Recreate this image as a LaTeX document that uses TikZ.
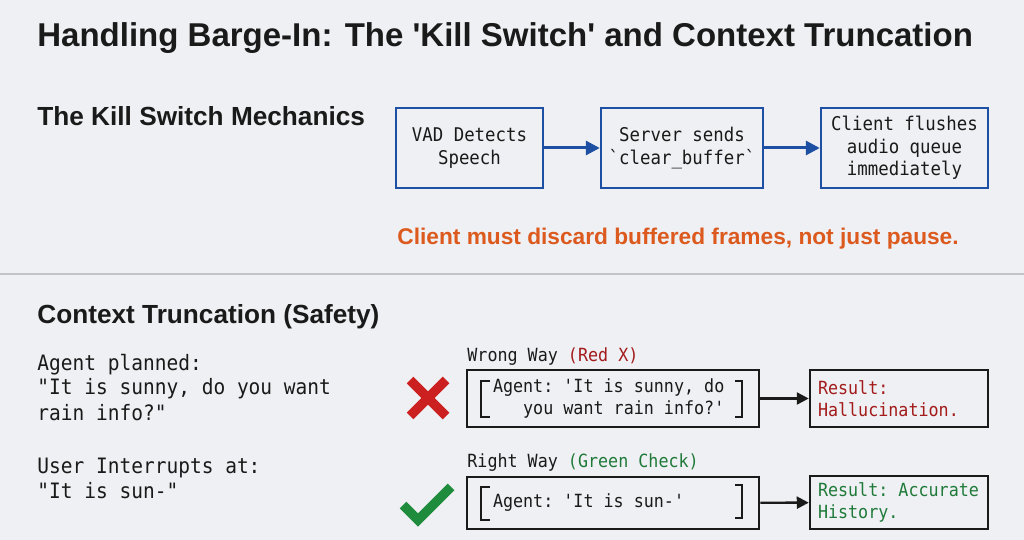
\documentclass[tikz,border=0pt]{standalone}
\usepackage{fontspec}
\setsansfont{Liberation Sans}
\setmonofont{DejaVu Sans Mono}[FakeStretch=0.92]
\usepackage{xcolor}
\usepackage{tikz}
\usetikzlibrary{
    arrows.meta
}
\definecolor{bgcol}{HTML}{EFF0F3}
\definecolor{inkcol}{HTML}{1A1A1A}
\definecolor{killblue}{HTML}{1D4FA3}
\definecolor{warnorange}{HTML}{DC5A1E}
\definecolor{wrongred}{HTML}{A31B1B}
\definecolor{xred}{HTML}{CC1F1F}
\definecolor{rightgreen}{HTML}{1F7A3A}
\definecolor{checkgreen}{HTML}{1E8C3C}
\definecolor{rulegray}{HTML}{C4C4C8}
\newcommand{\sq}{\XeTeXglyph\numexpr\XeTeXcharglyph"27\relax}
\tikzset{
    lbl/.style={anchor=base west, inner sep=0pt, text=inkcol},
    head/.style={lbl, font=\sffamily\bfseries\fontsize{13.1}{16}\selectfont},
    mono/.style={lbl, align=left, font=\ttfamily\fontsize{10.6}{12.5}\selectfont},
    waylbl/.style={lbl, font=\ttfamily\fontsize{9.08}{10}\selectfont},
    killbox/.style={draw=killblue, line width=1.2pt, minimum height=40pt, align=center,
        inner sep=2pt, text=inkcol, font=\ttfamily\fontsize{9.45}{11.2}\selectfont},
    killarrow/.style={draw=killblue, line width=1.5pt, -{Triangle[length=7pt,width=7pt]}},
    waybox/.style={draw=inkcol, line width=1.25pt, minimum width=146pt, text width=120pt,
        align=flush left, text=inkcol, font=\ttfamily\fontsize{9.08}{10.75}\selectfont},
    resbox/.style={waybox, minimum width=89pt, text width=81pt},
    wayarrow/.style={draw=inkcol, line width=1.2pt, -{Triangle[length=6pt,width=6pt]}},
    bracket/.style={draw=inkcol, line width=1pt}
}
\begin{document}
\begin{tikzpicture}[x=0.5pt,y=-0.5pt]
    \fill[bgcol] (0,0) rectangle (1024,540);
    \useasboundingbox (0,0) rectangle (1024,540);

    \draw (37,47) node[lbl,font=\sffamily\bfseries\fontsize{16.5}{20}\selectfont](ttl)
        {Handling Barge-In: The \sq Kill Switch\sq\ and Context Truncation};

    % kill switch
    \draw (37,126) node[head](kshead){The Kill Switch Mechanics};
    \draw (469.5,148) node[killbox,minimum width=73.5pt](vad){VAD Detects\\Speech};
    \draw (682,148) node[killbox,minimum width=81pt](srv){Server sends\\\symbol{96}clear\_buffer\symbol{96}};
    \draw (904.5,148) node[killbox,minimum width=83.5pt](cli){Client flushes\\audio queue\\immediately};
    \draw[killarrow] (vad) -- (srv);
    \draw[killarrow] (srv) -- (cli);
    \draw (397,245) node[lbl,text=warnorange,font=\sffamily\bfseries\fontsize{11.35}{14}\selectfont](warn)
        {Client must discard buffered frames, not just pause.};

    \draw[rulegray, line width=0.75pt] (0,274) -- (1024,274);

    % truncation
    \draw (37,323) node[head](cthead){Context Truncation (Safety)};
    \draw (37,420) node[mono](plan){Agent planned:\\"It is sunny, do you want\\rain info?"};
    \draw (37,498) node[mono](intr){User Interrupts at:\\"It is sun-"};

    \draw (467,361) node[waylbl](wlbl){Wrong Way \textcolor{wrongred}{(Red X)}};
    \draw (467,467) node[waylbl](rlbl){Right Way \textcolor{rightgreen}{(Green Check)}};

    \draw[xred, line width=4.6pt] (410,380) -- (446,416) (410,416) -- (446,380);
    \draw[checkgreen, line width=4.6pt] (403,505) -- (418,520) -- (451,487);

    \draw (613,398.5) node[waybox,minimum height=28.5pt](wrg)
        {Agent: 'It is sunny, do\\\phantom{you}you want rain info?'};
    \draw (899,398.5) node[resbox,minimum height=28.5pt,text=wrongred](wres)
        {Result:\\Hallucination.};
    \draw (613,503) node[waybox,minimum height=26pt](rgt){Agent: 'It is sun-'};
    \draw (899,502.5) node[resbox,minimum height=26.5pt,text=rightgreen](rres)
        {Result: Accurate\\History.};
    \draw[wayarrow] (wrg) -- (wres);
    \draw[wayarrow] (rgt) -- (rres);

    \draw[bracket] (490,381) -- (481,381) -- (481,417) -- (490,417);
    \draw[bracket] (735,381) -- (742,381) -- (742,417) -- (735,417);
    \draw[bracket] (490,487) -- (481,487) -- (481,520) -- (490,520);
    \draw[bracket] (735,485) -- (742,485) -- (742,518) -- (735,518);
\end{tikzpicture}
\end{document}
